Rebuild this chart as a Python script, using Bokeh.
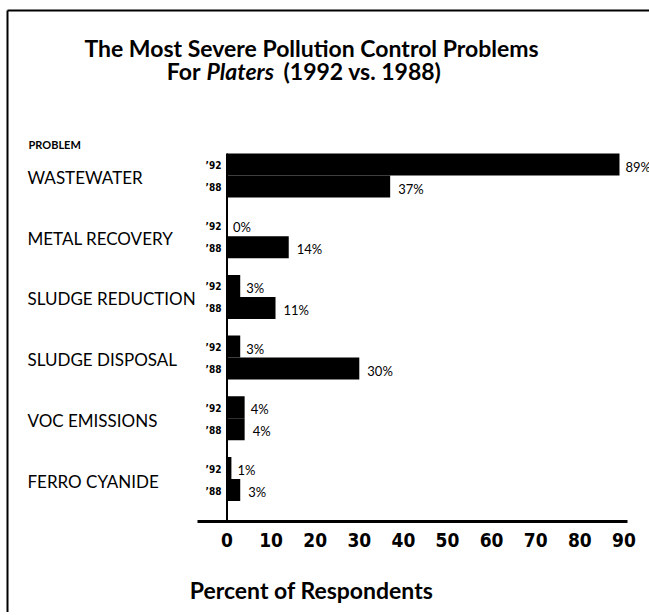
from bokeh.plotting import figure
from bokeh.models import Range1d, LinearAxis, FixedTicker
from bokeh.core.properties import value
from bokeh.embed import file_html
from bokeh.resources import INLINE

# ---------------- data ----------------
problems = ["WASTEWATER", "METAL RECOVERY", "SLUDGE REDUCTION",
            "SLUDGE DISPOSAL", "VOC EMISSIONS", "FERRO CYANIDE"]
pct_1992 = [89, 0, 3, 3, 4, 1]
pct_1988 = [37, 14, 11, 30, 4, 3]
year_labels = ["\u201992", "\u201988"]
x_ticks = [0, 10, 20, 30, 40, 50, 60, 70, 80, 90]
title_line1 = "The Most Severe Pollution Control Problems"
title_line2 = ["For", "Platers", "(1992 vs. 1988)"]
row_header = "PROBLEM"
x_title = "Percent of Respondents"

# ---------------- layout (pixel calibration) ----------------
W, H = 649, 612
X0_PX = 226.5        # pixel of 0 %
PX_PER_PCT = 4.41
ROW0_PX = 175.0      # pixel centre of first group
ROW_PX = 60.7        # pixels between groups
BAR_H = 22.0 / ROW_PX

def xd(px):
    return (px - X0_PX) / PX_PER_PCT

def yd(py):
    return -(py - ROW0_PX) / ROW_PX

MAIN = "Lato"
NARROW = "DejaVu Sans Condensed"

p = figure(width=W, height=H,
           x_range=Range1d(xd(0), xd(W)), y_range=Range1d(yd(H), yd(0)),
           output_backend="svg", toolbar_location=None,
           x_axis_location=None, y_axis_location=None, min_border=0)
p.outline_line_color = None
p.grid.grid_line_color = None
p.background_fill_color = "white"
p.border_fill_color = "white"

rows = [-i for i in range(len(problems))]
y92 = [r + BAR_H / 2 for r in rows]
y88 = [r - BAR_H / 2 for r in rows]

# bars
p.hbar(y=y92, left=0, right=pct_1992, height=BAR_H, fill_color="black", line_color=None)
p.hbar(y=y88, left=0, right=pct_1988, height=BAR_H, fill_color="black", line_color=None)

# value labels
p.text(x=pct_1992, y=y92, text=[f"{v}%" for v in pct_1992], x_offset=6, y_offset=2,
       text_font=value(MAIN), text_font_size="13px", text_align="left",
       text_baseline="middle", text_color="black")
p.text(x=pct_1988, y=y88, text=[f"{v}%" for v in pct_1988], x_offset=8, y_offset=2,
       text_font=value(MAIN), text_font_size="13px", text_align="left",
       text_baseline="middle", text_color="black")

# year labels
p.text(x=[xd(221)] * len(rows), y=y92, text=[year_labels[0]] * len(rows), y_offset=1,
       text_font=value(NARROW), text_font_style="bold", text_font_size="10px",
       text_align="right", text_baseline="middle")
p.text(x=[xd(221)] * len(rows), y=y88, text=[year_labels[1]] * len(rows), y_offset=1,
       text_font=value(NARROW), text_font_style="bold", text_font_size="10px",
       text_align="right", text_baseline="middle")

# category labels
p.text(x=[xd(27)] * len(rows), y=rows, text=problems, y_offset=2,
       text_font=value(MAIN), text_font_size="17px", text_align="left",
       text_baseline="middle")
p.text(x=[xd(28)], y=[yd(144)], text=[row_header],
       text_font=value(MAIN), text_font_style="bold", text_font_size="11px",
       text_align="left", text_baseline="middle")

# axes lines
p.segment(x0=[0], y0=[yd(153)], x1=[0], y1=[yd(521)], line_color="black", line_width=2)
p.segment(x0=[xd(197)], y0=[yd(521)], x1=[xd(627)], y1=[yd(521)], line_color="black", line_width=3)

# frame lines
p.segment(x0=[xd(7)], y0=[yd(10)], x1=[xd(7)], y1=[yd(H)], line_color="black", line_width=2)
p.segment(x0=[xd(7)], y0=[yd(10)], x1=[xd(W)], y1=[yd(10)], line_color="black", line_width=2)

# x axis (fixed inside the frame)
ax = LinearAxis(fixed_location=yd(521), ticker=FixedTicker(ticks=x_ticks))
ax.axis_line_color = None
ax.major_tick_line_color = None
ax.minor_tick_line_color = None
ax.major_tick_in = 0
ax.major_tick_out = 0
ax.major_label_standoff = 11
ax.major_label_text_font = NARROW
ax.major_label_text_font_style = "bold"
ax.major_label_text_font_size = "19px"
ax.major_label_text_color = "black"
p.add_layout(ax, "below")

# x title
p.text(x=[xd(311)], y=[yd(589)], text=[x_title],
       text_font=value(MAIN), text_font_style="bold", text_font_size="23px",
       text_align="center", text_baseline="middle")

# main title
p.text(x=[xd(311)], y=[yd(47)], text=[title_line1],
       text_font=value(MAIN), text_font_style="bold", text_font_size="23px",
       text_align="center", text_baseline="middle")
p.text(x=[xd(200)], y=[yd(70)], text=[title_line2[0]],
       text_font=value(MAIN), text_font_style="bold", text_font_size="23px",
       text_align="right", text_baseline="middle")
p.text(x=[xd(206)], y=[yd(70)], text=[title_line2[1]],
       text_font=value(MAIN), text_font_style="bold italic", text_font_size="23px",
       text_align="left", text_baseline="middle")
p.text(x=[xd(283)], y=[yd(70)], text=[title_line2[2]],
       text_font=value(MAIN), text_font_style="bold", text_font_size="23px",
       text_align="left", text_baseline="middle")

html = file_html(p, INLINE)
html = html.replace("<head>", "<head><style>html, body {margin: 0; padding: 0; overflow: hidden;}</style>", 1)
open("out.html", "w").write(html)
